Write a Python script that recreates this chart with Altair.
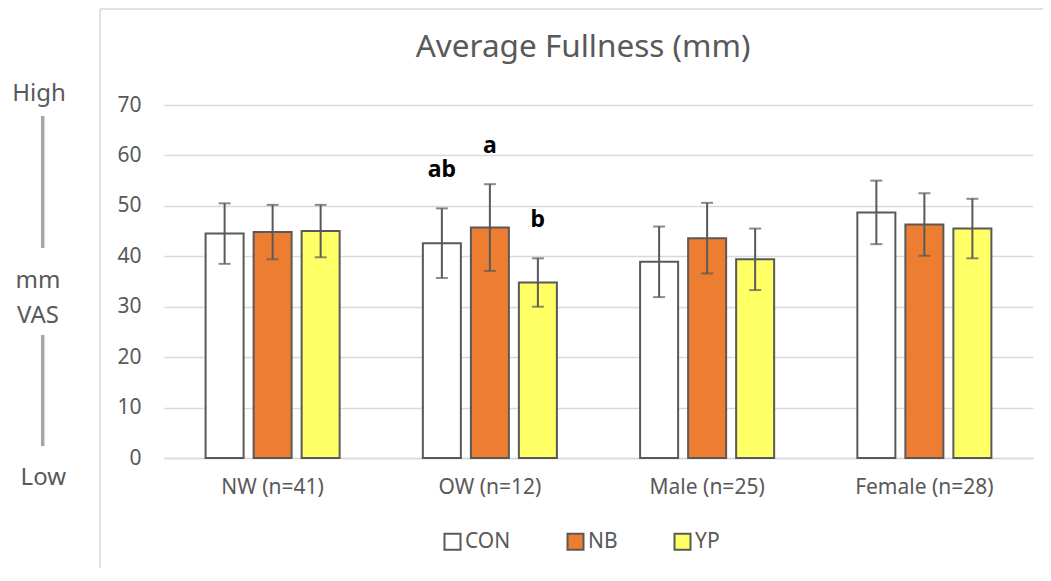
import altair as alt
import pandas as pd

groups = ["NW (n=41)", "OW (n=12)", "Male (n=25)", "Female (n=28)"]
series = ["CON", "NB", "YP"]
means = {
    "CON": [44.5, 42.6, 38.9, 48.7],
    "NB": [44.8, 45.7, 43.6, 46.3],
    "YP": [45.0, 34.8, 39.4, 45.5],
}
errors = {
    "CON": [6.0, 6.9, 7.0, 6.3],
    "NB": [5.4, 8.6, 7.0, 6.2],
    "YP": [5.2, 4.8, 6.1, 5.9],
}
sig_letters = {
    "CON": ["", "ab", "", ""],
    "NB": ["", "a", "", ""],
    "YP": ["", "b", "", ""],
}
colors = ["#FFFFFF", "#ED7D31", "#FFFF66"]
y_ticks = [0, 10, 20, 30, 40, 50, 60, 70]
title_text = "Average Fullness (mm)"

rows = []
for s in series:
    for i, g in enumerate(groups):
        rows.append({"group": g, "series": s, "mean": means[s][i],
                     "err": errors[s][i], "sig": sig_letters[s][i]})
df = pd.DataFrame(rows)

FONT = "Noto Sans"
GREY = "#595959"
GRID = "#d9d9d9"

x_enc = alt.X("group:N", sort=groups,
              scale=alt.Scale(paddingInner=0.337, paddingOuter=0.1685),
              axis=alt.Axis(labelAngle=0, ticks=False, domain=True, domainColor=GRID,
                            domainWidth=1.5, labelFont=FONT, labelFontSize=21,
                            labelColor=GREY, labelPadding=18, title=None))
xo_enc = alt.XOffset("series:N", sort=series,
                     scale=alt.Scale(paddingInner=0.2083, paddingOuter=0.1042))
y_scale = alt.Scale(domain=[0, 70], nice=False)

base = alt.Chart(df).transform_calculate(
    hi="datum.mean + datum.err", lo="datum.mean - datum.err")

bars = base.mark_bar(stroke=GREY, strokeWidth=2).encode(
    x=x_enc, xOffset=xo_enc,
    y=alt.Y("mean:Q", scale=y_scale,
            axis=alt.Axis(values=y_ticks, grid=True, gridColor=GRID, gridWidth=1.5,
                          domain=False, ticks=False, labelFont=FONT, labelFontSize=21,
                          labelColor=GREY, labelPadding=23, title=None)),
    fill=alt.Fill("series:N", sort=series,
                  scale=alt.Scale(domain=series, range=colors),
                  legend=alt.Legend(orient="none", legendX=278, legendY=426,
                                    direction="horizontal", title=None,
                                    symbolType="square", symbolSize=256,
                                    symbolStrokeColor=GREY, symbolStrokeWidth=2,
                                    labelFont=FONT, labelFontSize=21, labelColor=GREY,
                                    labelOffset=2, columnPadding=52)),
)

rule = base.mark_rule(color=GREY, strokeWidth=2).encode(
    x=x_enc, xOffset=xo_enc, y=alt.Y("lo:Q", scale=y_scale), y2="hi:Q")
cap_hi = base.mark_tick(color=GREY, thickness=2, size=12).encode(
    x=x_enc, xOffset=xo_enc, y=alt.Y("hi:Q", scale=y_scale))
cap_lo = base.mark_tick(color=GREY, thickness=2, size=12).encode(
    x=x_enc, xOffset=xo_enc, y=alt.Y("lo:Q", scale=y_scale))
sig = base.mark_text(font=FONT, fontSize=23, fontWeight="bold", color="#000000",
                     baseline="alphabetic", dy=-31).encode(
    x=x_enc, xOffset=xo_enc, y=alt.Y("hi:Q", scale=y_scale), text="sig:N")

one = pd.DataFrame({"a": [0]})


def side_text(txt, x, y, size=24):
    return alt.Chart(one).mark_text(font=FONT, fontSize=size, color=GREY,
                                    baseline="alphabetic", align="center").encode(
        x=alt.value(x), y=alt.value(y), text=alt.value(txt))


def rule_px(x, y, x2=None, y2=None, color=GRID, w=1.5):
    enc = {"x": alt.value(x), "y": alt.value(y)}
    if x2 is not None:
        enc["x2"] = alt.value(x2)
    if y2 is not None:
        enc["y2"] = alt.value(y2)
    return alt.Chart(one).mark_rule(color=color, strokeWidth=w).encode(**enc)


decor = [
    rule_px(-64, -96, y2=480),
    rule_px(-64, -96, x2=890),
    rule_px(-121.3, 11, y2=143, color="#a6a6a6", w=3.5),
    rule_px(-121.3, 230, y2=341, color="#a6a6a6", w=3.5),
    side_text("High", -125, -4.3),
    side_text("mm", -126, 183),
    side_text("VAS", -126, 218),
    side_text("Low", -120.7, 380),
    side_text(title_text, 419, -48.3, size=31.5),
]

chart = alt.layer(*decor, bars, rule, cap_hi, cap_lo, sig).properties(
    width=869, height=353,
    autosize=alt.AutoSizeParams(type="none"),
    padding={"left": 156, "top": 97, "right": 10, "bottom": 110},
).configure(background="#FFFFFF").configure_view(stroke=None)

chart.save("out.html", embed_options={"renderer": "svg", "actions": False})
